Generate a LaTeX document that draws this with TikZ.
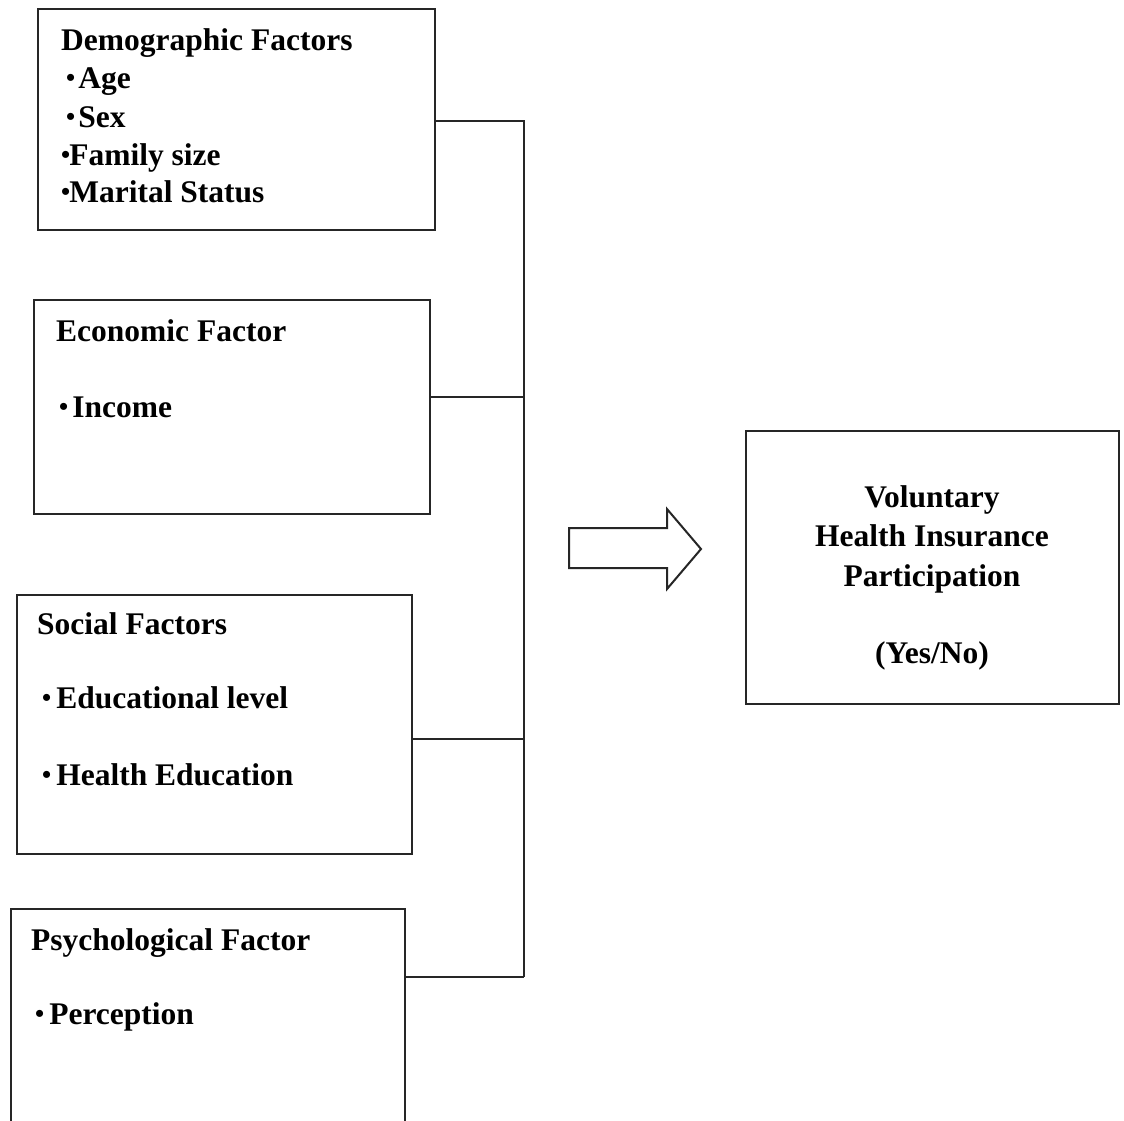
\documentclass[tikz,border=0pt]{standalone}
\usepackage{fontspec}
\setmainfont{Liberation Serif}
\newcommand{\bul}{{\fontsize{26}{26}\selectfont\raisebox{1.5pt}{\textbullet}}}
\begin{document}
\begin{tikzpicture}[x=1pt,y=-1pt,
  box/.style={draw=black!85, line width=2pt, anchor=north west, inner sep=0pt},
  txt/.style={anchor=base west, inner sep=0pt, font=\fontsize{31.5}{37}\selectfont\bfseries},
  ctxt/.style={anchor=base, inner sep=0pt, font=\fontsize{31.5}{37}\selectfont\bfseries},
  conn/.style={draw=black!85, line width=2pt}]
\useasboundingbox (0,0) rectangle (1124,1120);
\fill[white] (0,0) rectangle (1124,1120);

% boxes
\node[box, minimum width=397pt, minimum height=221pt] (demo) at (37,8) {};
\node[box, minimum width=396pt, minimum height=214pt] (econ) at (33,299) {};
\node[box, minimum width=395pt, minimum height=259pt] (soc) at (16,594) {};
\node[box, minimum width=394pt, minimum height=216pt] (psy) at (10,908) {};
\node[box, minimum width=373pt, minimum height=273pt] (out) at (745,430) {};

% texts: demographic
\node[txt] (dT) at (61,50) {Demographic Factors};
\node[txt] (d1) at (66,88) {\bul\kern3pt Age};
\node[txt] (d2) at (66,127) {\bul\kern3pt Sex};
\node[txt] (d3) at (61,165) {\bul\kern-1pt Family size};
\node[txt] (d4) at (61,202) {\bul\kern-1pt Marital Status};

% economic
\node[txt] (eT) at (56,341) {Economic Factor};
\node[txt] (e1) at (59,417) {\bul\kern4pt Income};

% social
\node[txt] (sT) at (37,634) {Social Factors};
\node[txt] (s1) at (42,708) {\bul\kern5pt Educational level};
\node[txt] (s2) at (42,785) {\bul\kern5pt Health Education};

% psychological
\node[txt] (pT) at (31,950) {Psychological Factor};
\node[txt] (p1) at (35,1024) {\bul\kern5pt Perception};

% outcome
\node[ctxt] (o1) at (932,507) {Voluntary};
\node[ctxt] (o2) at (932,546) {Health Insurance};
\node[ctxt] (o3) at (932,586) {Participation};
\node[ctxt] (o4) at (932,663) {(Yes/No)};

% connectors
\coordinate (j1) at (524,121);
\coordinate (j2) at (524,397);
\coordinate (j3) at (524,739);
\coordinate (j4) at (524,977);
\draw[conn] (demo.east |- j1) -- (j1) -- (j4);
\draw[conn] (econ.east |- j2) -- (j2);
\draw[conn] (soc.east |- j3) -- (j3);
\draw[conn] (psy.east |- j4) -- (j4);

% block arrow
\coordinate (a1) at (569,528);
\coordinate (a2) at (667,528);
\coordinate (a3) at (667,509);
\coordinate (a4) at (701,549);
\coordinate (a5) at (667,589);
\coordinate (a6) at (667,568);
\coordinate (a7) at (569,568);
\draw[conn, line join=miter] (a1) -- (a2) -- (a3) -- (a4) -- (a5) -- (a6) -- (a7) -- cycle;
\end{tikzpicture}
\end{document}
